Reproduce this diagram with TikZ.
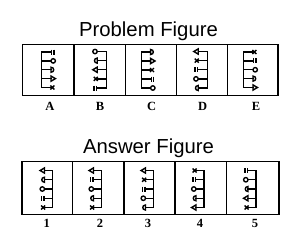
\documentclass[tikz,border=0pt]{standalone}
\usepackage{fontspec}
\setmainfont{Liberation Serif}
\newfontfamily\titlefont{Liberation Sans}
\tikzset{
  combline/.style={line width=1.4pt, line cap=rect, line join=miter},
  boxline/.style={line width=1.5pt},
  divline/.style={line width=1.1pt},
  symeq/.pic={\draw[combline,line cap=butt] (0.7,-2.5)--(0.7,2.5) (3.1,-2.5)--(3.1,2.5);},
  symo/.pic={\draw[combline] (2.2,0) circle[radius=2.2];},
  symd/.pic={\draw[combline] (0,-2.5) -- (0,2.5) .. controls (3.6,2.5) and (3.6,-2.5) .. cycle;},
  symtri/.pic={\draw[combline] (0,-2.6) -- (4.4,0) -- (0,2.6) -- cycle;},
  symx/.pic={\draw[combline,line cap=butt] (-0.6,-2)--(3.4,2) (-0.6,2)--(3.4,-2);},
  lab/.style={font=\bfseries\fontsize{12.5}{12.5}\selectfont, inner sep=0pt},
  ttl/.style={font=\titlefont\fontsize{20.3}{20}\selectfont, inner sep=0pt}
}
% #1 spine x, #2 tooth end x, #3 y top, #4 y bottom, #5 direction (1 or -1), #6 symbol list
\newcommand\mycomb[6]{%
  \draw[combline] (#1,#3) -- (#1,#4);
  \foreach \s [count=\i from 0] in {#6} {
    \pgfmathsetmacro\yy{#3+(#4-#3)*\i/4}
    \draw[combline] (#1,\yy) -- (#2,\yy);
    \pic[xscale=#5] at (#2,\yy) {\s};
  }%
}
\begin{document}
\begin{tikzpicture}[x=1pt,y=-1pt]
\useasboundingbox (0,0) rectangle (300,250);
% titles
\node[ttl] (t1) at (148.5,31) {Problem Figure};
\node[ttl] (t2) at (148.5,148) {Answer Figure};
% problem boxes
\draw[boxline] (22.5,44.5) rectangle (278,95.5);
\foreach \xx in {74,125.5,176.5,227.5} \draw[divline] (\xx,44.5) -- (\xx,95.5);
% answer boxes
\draw[boxline] (22,161.5) rectangle (279,214.5);
\foreach \xx in {72.3,124,175,226.7} \draw[divline] (\xx,161.5) -- (\xx,214.5);
% problem figures
\mycomb{41.7}{51}{52}{87.5}{1}{symeq,symo,symd,symtri,symx}
\mycomb{106.5}{97.2}{51.5}{88}{-1}{symo,symd,symtri,symx,symeq}
\mycomb{141.3}{150.6}{52}{88}{1}{symd,symtri,symx,symeq,symo}
\mycomb{207.5}{198.2}{51.5}{88}{-1}{symtri,symx,symeq,symo,symd}
\mycomb{243.7}{253}{52}{87.5}{1}{symx,symeq,symo,symd,symtri}
% answer figures
\mycomb{52.5}{44.5}{170.5}{207.5}{-1}{symtri,symd,symo,symeq,symx}
\mycomb{101.5}{93.5}{170.5}{207.5}{-1}{symtri,symeq,symo,symd,symx}
\mycomb{153.5}{145.5}{170.5}{207.5}{-1}{symtri,symx,symeq,symo,symd}
\mycomb{204}{196}{170.5}{207.5}{-1}{symx,symeq,symo,symd,symtri}
\mycomb{256}{248}{170.5}{207.5}{-1}{symeq,symo,symd,symtri,symx}
% labels
\node[lab] (la) at (50,106) {A};
\node[lab] (lb) at (100,106) {B};
\node[lab] (lc) at (151.7,106) {C};
\node[lab] (ld) at (202.7,106) {D};
\node[lab] (le) at (256,106) {E};
\node[lab] (l1) at (46.7,223.5) {1};
\node[lab] (l2) at (100,223.5) {2};
\node[lab] (l3) at (148,223.5) {3};
\node[lab] (l4) at (200,223.5) {4};
\node[lab] (l5) at (255,223.5) {5};
\end{tikzpicture}
\end{document}
